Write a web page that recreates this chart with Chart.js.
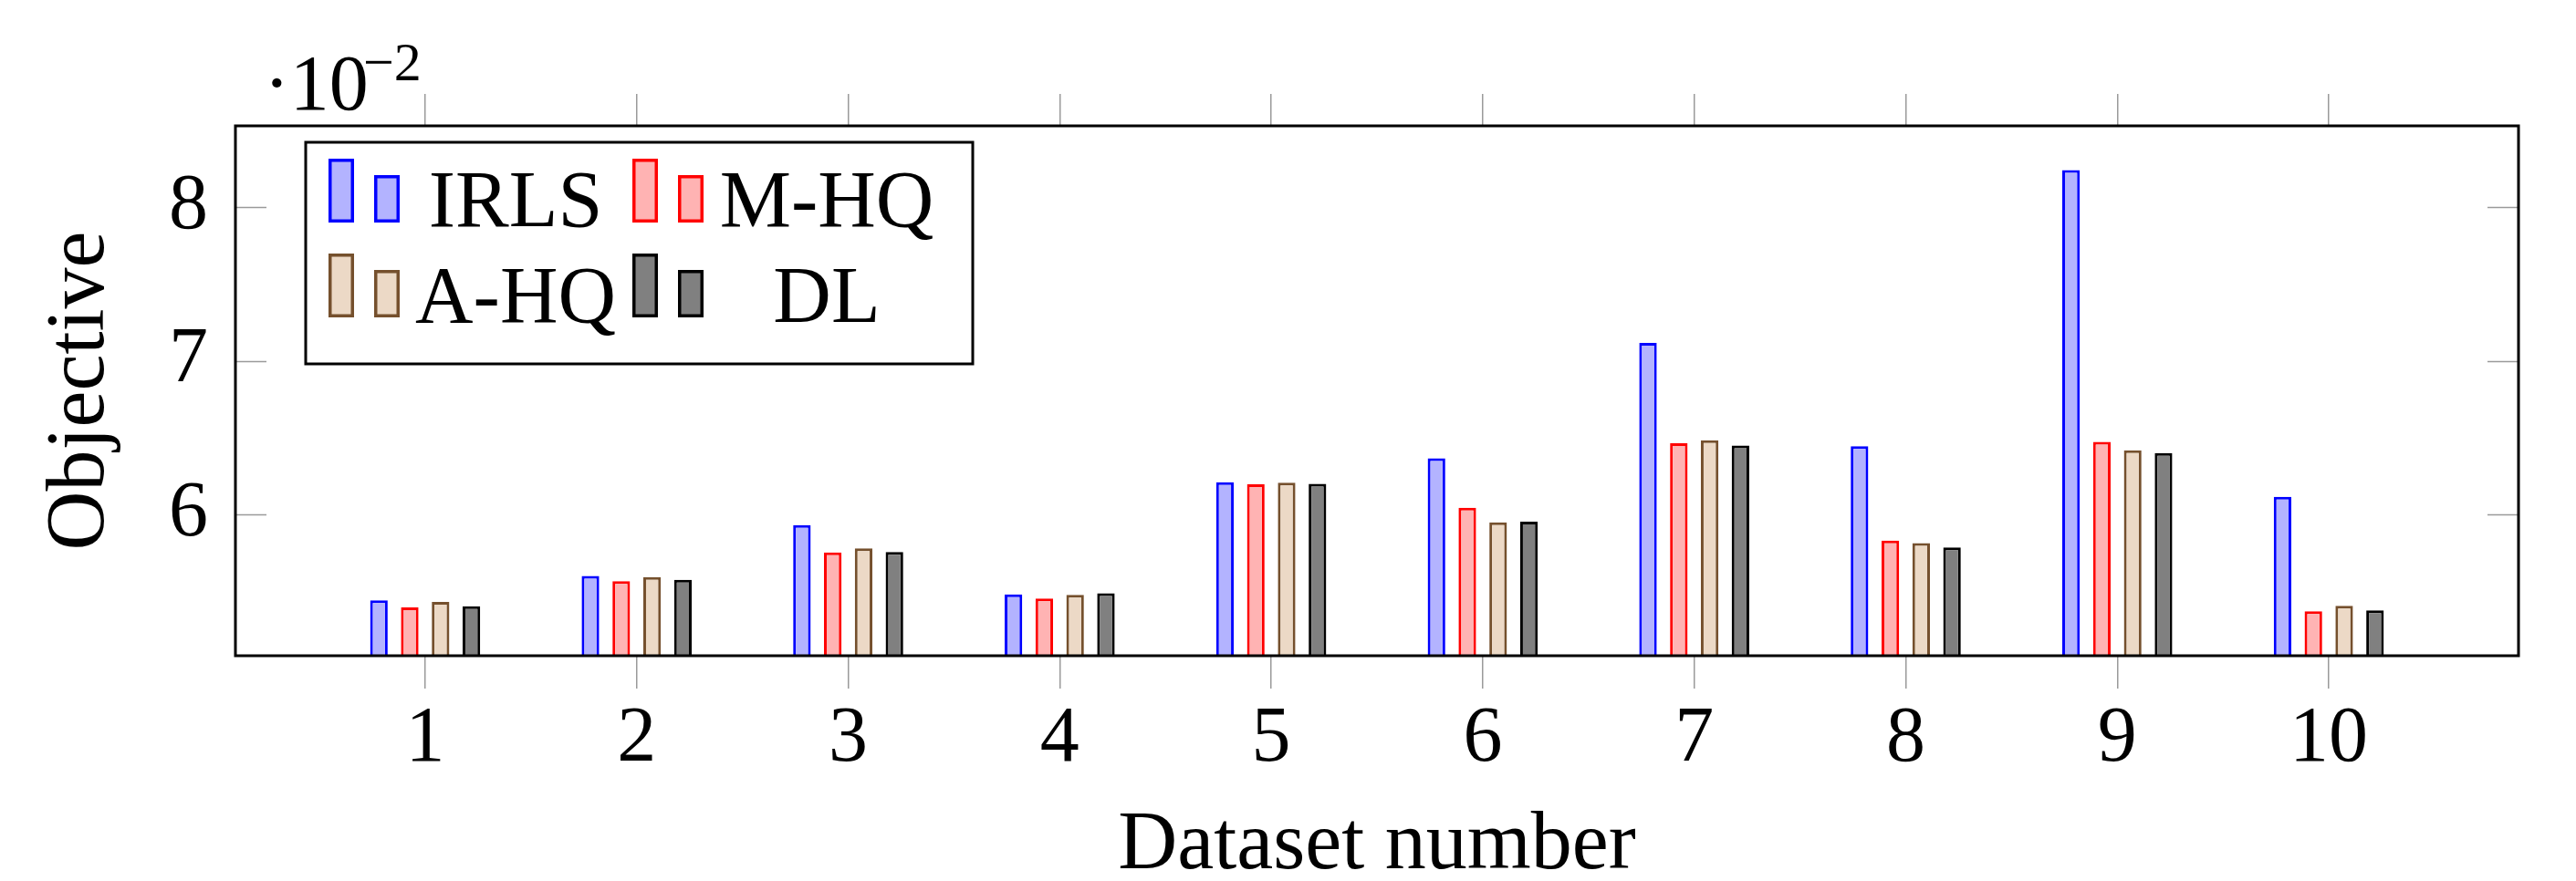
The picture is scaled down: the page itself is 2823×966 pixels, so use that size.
<!DOCTYPE html>
<html>
<head>
<meta charset="utf-8">
<title>Objective per dataset</title>
<script src="https://cdn.jsdelivr.net/npm/chart.js"></script>
<style>
    body { margin: 0; background: #fff; }
    #wrap { width: 2823px; height: 966px; }
</style>
</head>
<body>
<div id="wrap"><canvas id="objChart"></canvas></div>

<script>
    // objective values, read in units of 10^-2 (as on the axis)
    const datasetNumbers = [1, 2, 3, 4, 5, 6, 7, 8, 9, 10];
    const irls = [5.44, 5.60, 5.93, 5.48, 6.21, 6.365, 7.117, 6.445, 8.242, 6.115];
    const mhq  = [5.395, 5.566, 5.753, 5.453, 6.197, 6.043, 6.463, 5.83, 6.473, 5.37];
    const ahq  = [5.43, 5.592, 5.779, 5.477, 6.207, 5.949, 6.483, 5.813, 6.418, 5.405];
    const dl   = [5.402, 5.574, 5.756, 5.487, 6.199, 5.953, 6.448, 5.785, 6.40, 5.375];
    const yTicks = [6, 7, 8];
    const yMin = 5.08, yMax = 8.53;
    const xMin = 0.103, xMax = 10.897;

    const serif = 'Liberation Serif';
    const tickGray = '#9a9a9a';

    function series(values) {
        return datasetNumbers.map((n, i) => ({ x: n, y: values[i] }));
    }

    function bars(label, values, fill, stroke) {
        return {
            label: label,
            data: series(values),
            backgroundColor: fill,
            borderColor: stroke,
            borderWidth: 3,
            borderSkipped: 'start',
            base: yMin,
            barPercentage: 0.57,
            categoryPercentage: 0.583
        };
    }

    // frame, inner y ticks, exponent label
    const framePlugin = {
        id: 'frame',
        afterDatasetsDraw(chart) {
            const ctx = chart.ctx;
            const a = chart.chartArea;
            const y = chart.scales.y;
            ctx.save();
            ctx.strokeStyle = tickGray;
            ctx.lineWidth = 1.5;
            y.ticks.forEach(t => {
                const py = Math.round(y.getPixelForValue(t.value)) + 0.5;
                ctx.beginPath();
                ctx.moveTo(a.left, py); ctx.lineTo(a.left + 34, py);
                ctx.moveTo(a.right - 34, py); ctx.lineTo(a.right, py);
                ctx.stroke();
            });
            ctx.strokeStyle = '#000';
            ctx.lineWidth = 3;
            ctx.strokeRect(a.left, a.top, a.right - a.left, a.bottom - a.top);

            ctx.fillStyle = '#000';
            ctx.textBaseline = 'alphabetic';
            ctx.textAlign = 'left';
            ctx.font = '86px "' + serif + '"';
            ctx.fillText('\u00b710', a.left + 31, a.top - 18);
            ctx.font = '60px "' + serif + '"';
            ctx.fillText('\u22122', a.left + 140, a.top - 50);
            ctx.restore();
        }
    };

    // legend: two bar icons per entry, 2 columns
    const legendPlugin = {
        id: 'barLegend',
        afterDraw(chart) {
            const ctx = chart.ctx;
            const a = chart.chartArea;
            const x0 = a.left + 77, y0 = a.top + 18, w = 731, h = 243;
            ctx.save();
            ctx.fillStyle = '#fff';
            ctx.fillRect(x0, y0, w, h);
            ctx.strokeStyle = '#000';
            ctx.lineWidth = 3;
            ctx.strokeRect(x0, y0, w, h);

            function icon(x, y, iw, ih, fill, stroke) {
                ctx.fillStyle = fill;
                ctx.fillRect(x, y, iw, ih);
                ctx.strokeStyle = stroke;
                ctx.lineWidth = 3.5;
                ctx.strokeRect(x + 1.75, y + 1.75, iw - 3.5, ih - 3.5);
            }

            chart.data.datasets.forEach((ds, i) => {
                const col = i % 2, row = Math.floor(i / 2);
                const ix = x0 + 25 + col * 333;
                const iy = y0 + 18 + row * 104;
                icon(ix, iy, 28, 70, ds.backgroundColor, ds.borderColor);
                icon(ix + 50, iy + 18, 28, 52, ds.backgroundColor, ds.borderColor);
                ctx.fillStyle = '#000';
                ctx.font = '88px "' + serif + '"';
                ctx.textAlign = 'center';
                ctx.textBaseline = 'alphabetic';
                ctx.fillText(ds.label, x0 + 230 + col * 341, y0 + 92 + row * 105);
            });
            ctx.restore();
        }
    };

    const ctx = document.getElementById('objChart').getContext('2d');
    new Chart(ctx, {
        type: 'bar',
        data: {
            datasets: [
                bars('IRLS', irls, 'rgb(179,179,255)', '#0000ff'),
                bars('M-HQ', mhq, 'rgb(255,179,179)', '#ff0000'),
                bars('A-HQ', ahq, 'rgb(236,217,198)', 'rgb(117,80,45)'),
                bars('DL', dl, 'rgb(128,128,128)', '#000000')
            ]
        },
        options: {
            responsive: true,
            maintainAspectRatio: false,
            animation: false,
            layout: { padding: { left: 0, right: 63, top: 0, bottom: 0 } },
            plugins: {
                legend: { display: false },
                tooltip: { enabled: false }
            },
            scales: {
                x: {
                    type: 'linear',
                    position: 'bottom',
                    min: xMin,
                    max: xMax,
                    offset: false,
                    afterBuildTicks: s => { s.ticks = datasetNumbers.map(v => ({ value: v })); },
                    afterFit: s => { s.height = 247; },
                    grid: {
                        offset: false,
                        drawOnChartArea: false,
                        tickLength: 36,
                        color: tickGray,
                        lineWidth: 1.5
                    },
                    border: { display: false },
                    ticks: {
                        padding: 5,
                        maxRotation: 0,
                        autoSkip: false,
                        color: '#000',
                        font: { family: serif, size: 86 }
                    },
                    title: {
                        display: true,
                        text: 'Dataset number',
                        color: '#000',
                        padding: { top: 0, bottom: -7 },
                        font: { family: serif, size: 90, lineHeight: 1 }
                    }
                },
                xTop: {
                    type: 'linear',
                    position: 'top',
                    min: xMin,
                    max: xMax,
                    offset: false,
                    afterBuildTicks: s => { s.ticks = datasetNumbers.map(v => ({ value: v })); },
                    afterFit: s => { s.height = 138; },
                    grid: {
                        offset: false,
                        drawOnChartArea: false,
                        tickLength: 35,
                        color: tickGray,
                        lineWidth: 1.5
                    },
                    border: { display: false },
                    ticks: { display: false }
                },
                y: {
                    type: 'linear',
                    position: 'left',
                    min: yMin,
                    max: yMax,
                    afterBuildTicks: s => { s.ticks = yTicks.map(v => ({ value: v })); },
                    afterFit: s => { s.width = 258; },
                    grid: { display: false, drawTicks: false },
                    border: { display: false },
                    ticks: {
                        padding: 30,
                        color: '#000',
                        font: { family: serif, size: 86 }
                    },
                    title: {
                        display: true,
                        text: 'Objective',
                        color: '#000',
                        padding: { top: 44, bottom: 0 },
                        font: { family: serif, size: 90, lineHeight: 1 }
                    }
                }
            }
        },
        plugins: [framePlugin, legendPlugin]
    });
</script>
</body>
</html>
